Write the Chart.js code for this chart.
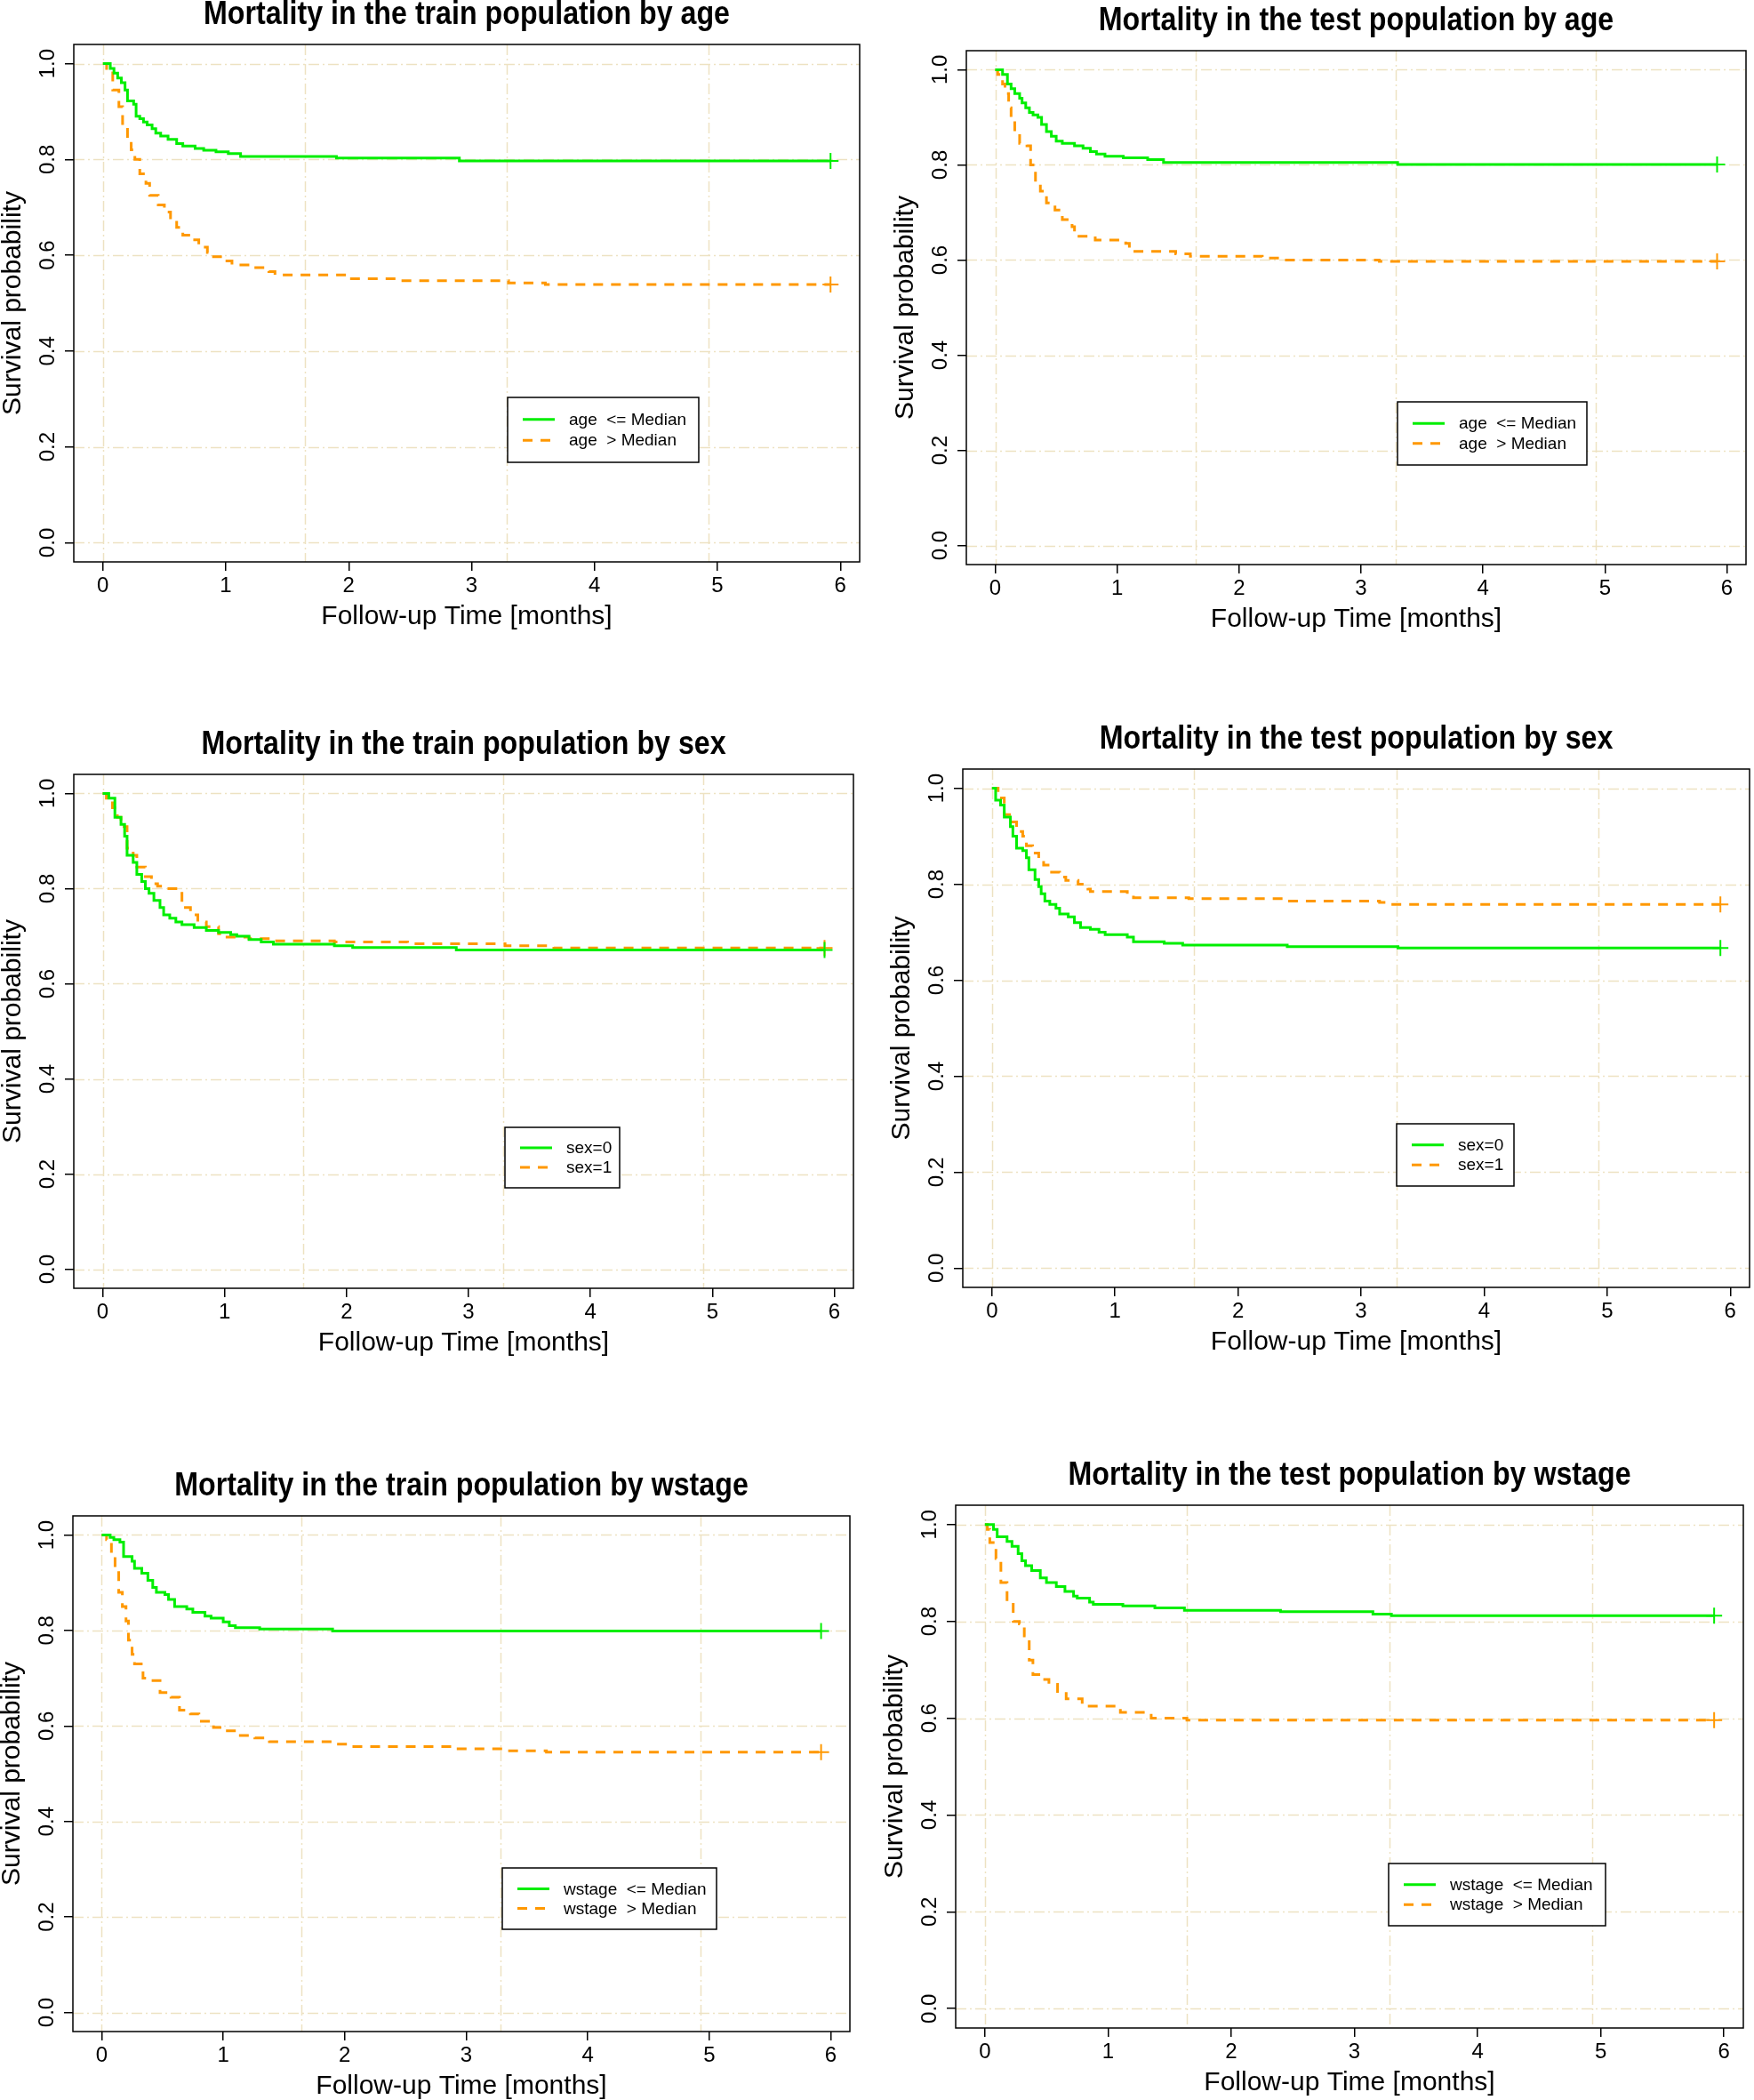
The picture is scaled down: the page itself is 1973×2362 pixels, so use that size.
<!DOCTYPE html>
<html>
<head>
<meta charset="utf-8">
<script src="https://cdn.jsdelivr.net/npm/chart.js@4/dist/chart.umd.min.js"></script>
<style>
  html, body { margin: 0; padding: 0; background: #fff; }
  body { position: relative; width: 1973px; height: 2362px; overflow: hidden; }
  canvas { position: absolute; }
</style>
</head>
<body>
<script>
// Axis ticks and limits
const xTicks = [0, 1, 2, 3, 4, 5, 6];
const yTicks = [0, 0.2, 0.4, 0.6, 0.8, 1.0];
const gridDays = [0, 50, 100, 150];        // vertical grid every 50 days
const END_TIME = 5.92;                      // last follow-up (censored)

const titles = [
    'Mortality in the train population by age',
    'Mortality in the test population by age',
    'Mortality in the train population by sex',
    'Mortality in the test population by sex',
    'Mortality in the train population by wstage',
    'Mortality in the test population by wstage'
];
const ageLabels = ['age  <= Median', 'age  > Median'];
const sexLabels = ['sex=0', 'sex=1'];
const wstageLabels = ['wstage  <= Median', 'wstage  > Median'];

// Kaplan-Meier steps: event times (months) and survival after each step
const trainAgeLowT = [0, 0.06, 0.09, 0.12, 0.15, 0.18, 0.2, 0.25, 0.27, 0.3, 0.33, 0.36, 0.4, 0.43, 0.47, 0.53, 0.6, 0.65, 0.75, 0.82, 0.92, 1.02, 1.12, 1.9, 2.9];
const trainAgeLowS = [1, 0.99, 0.98, 0.97, 0.96, 0.945, 0.922, 0.915, 0.89, 0.885, 0.878, 0.872, 0.864, 0.855, 0.849, 0.842, 0.833, 0.828, 0.823, 0.819, 0.816, 0.812, 0.806, 0.803, 0.797];
const trainAgeHighT = [0, 0.03, 0.08, 0.13, 0.16, 0.2, 0.23, 0.26, 0.3, 0.35, 0.38, 0.45, 0.5, 0.55, 0.6, 0.65, 0.72, 0.78, 0.85, 0.9, 0.98, 1.05, 1.2, 1.35, 1.4, 2.0, 2.4, 3.3, 3.6];
const trainAgeHighS = [1, 0.99, 0.945, 0.91, 0.875, 0.845, 0.82, 0.8, 0.77, 0.75, 0.725, 0.705, 0.69, 0.675, 0.658, 0.642, 0.632, 0.617, 0.606, 0.597, 0.588, 0.58, 0.574, 0.566, 0.559, 0.551, 0.547, 0.542, 0.539];

const testAgeLowT = [0, 0.06, 0.1, 0.13, 0.16, 0.2, 0.22, 0.25, 0.28, 0.31, 0.35, 0.38, 0.42, 0.46, 0.5, 0.55, 0.65, 0.72, 0.78, 0.83, 0.9, 1.05, 1.25, 1.38, 3.3];
const testAgeLowS = [1, 0.99, 0.97, 0.96, 0.95, 0.94, 0.93, 0.92, 0.91, 0.905, 0.9, 0.885, 0.87, 0.86, 0.85, 0.845, 0.84, 0.835, 0.828, 0.823, 0.818, 0.815, 0.811, 0.805, 0.801];
const testAgeHighT = [0, 0.02, 0.06, 0.08, 0.11, 0.13, 0.16, 0.2, 0.26, 0.29, 0.33, 0.37, 0.42, 0.49, 0.55, 0.63, 0.65, 0.82, 1.07, 1.1, 1.48, 1.6, 2.19, 2.37, 3.15];
const testAgeHighS = [1, 0.99, 0.97, 0.95, 0.92, 0.9, 0.87, 0.845, 0.84, 0.8, 0.76, 0.745, 0.72, 0.705, 0.685, 0.67, 0.65, 0.642, 0.635, 0.618, 0.613, 0.608, 0.604, 0.6, 0.597];

const trainSex0T = [0, 0.05, 0.1, 0.15, 0.18, 0.2, 0.25, 0.28, 0.32, 0.35, 0.38, 0.42, 0.47, 0.5, 0.55, 0.6, 0.65, 0.75, 0.85, 0.95, 1.05, 1.1, 1.2, 1.3, 1.4, 1.9, 2.05, 2.9];
const trainSex0S = [1, 0.99, 0.95, 0.935, 0.91, 0.87, 0.855, 0.83, 0.815, 0.8, 0.79, 0.775, 0.76, 0.745, 0.738, 0.73, 0.724, 0.718, 0.712, 0.708, 0.703, 0.7, 0.693, 0.688, 0.683, 0.68, 0.676, 0.671];
const trainSex1T = [0, 0.03, 0.08, 0.12, 0.15, 0.2, 0.25, 0.28, 0.35, 0.4, 0.45, 0.53, 0.6, 0.65, 0.72, 0.78, 0.85, 0.95, 1.0, 1.2, 1.4, 1.9, 2.5, 3.3, 3.7];
const trainSex1S = [1, 0.99, 0.97, 0.95, 0.93, 0.885, 0.87, 0.845, 0.825, 0.81, 0.805, 0.8, 0.79, 0.76, 0.745, 0.73, 0.72, 0.705, 0.698, 0.695, 0.69, 0.688, 0.684, 0.68, 0.675];

const testSex0T = [0, 0.03, 0.07, 0.1, 0.15, 0.17, 0.2, 0.25, 0.28, 0.3, 0.35, 0.38, 0.4, 0.43, 0.47, 0.52, 0.55, 0.62, 0.67, 0.72, 0.8, 0.87, 0.92, 1.1, 1.15, 1.4, 1.55, 2.4, 3.3];
const testSex0S = [1, 0.975, 0.965, 0.94, 0.92, 0.9, 0.875, 0.87, 0.855, 0.83, 0.81, 0.795, 0.78, 0.765, 0.758, 0.75, 0.738, 0.732, 0.72, 0.71, 0.706, 0.7, 0.695, 0.69, 0.68, 0.677, 0.673, 0.67, 0.667];
const testSex1T = [0, 0.05, 0.1, 0.17, 0.2, 0.25, 0.28, 0.33, 0.38, 0.42, 0.47, 0.55, 0.6, 0.7, 0.78, 0.8, 1.1, 1.15, 1.6, 2.4, 3.15, 3.2];
const testSex1S = [1, 0.98, 0.945, 0.93, 0.91, 0.9, 0.88, 0.865, 0.85, 0.84, 0.825, 0.815, 0.808, 0.8, 0.79, 0.785, 0.78, 0.772, 0.77, 0.765, 0.762, 0.758];

const trainWstLowT = [0, 0.07, 0.1, 0.15, 0.18, 0.25, 0.27, 0.33, 0.38, 0.42, 0.45, 0.52, 0.55, 0.6, 0.7, 0.75, 0.85, 0.9, 1.0, 1.05, 1.1, 1.3, 1.9];
const trainWstLowS = [1, 0.995, 0.99, 0.985, 0.955, 0.945, 0.93, 0.92, 0.905, 0.89, 0.88, 0.875, 0.865, 0.85, 0.845, 0.838, 0.83, 0.826, 0.818, 0.81, 0.806, 0.803, 0.799];
const trainWstHighT = [0, 0.04, 0.08, 0.11, 0.14, 0.17, 0.2, 0.22, 0.25, 0.27, 0.34, 0.41, 0.48, 0.57, 0.64, 0.73, 0.8, 0.92, 1.01, 1.12, 1.26, 1.38, 1.88, 2.04, 2.89, 3.3, 3.66];
const trainWstHighS = [1, 0.99, 0.96, 0.93, 0.88, 0.85, 0.82, 0.78, 0.75, 0.73, 0.7, 0.695, 0.67, 0.66, 0.633, 0.625, 0.61, 0.597, 0.59, 0.58, 0.575, 0.567, 0.562, 0.557, 0.552, 0.548, 0.545];

const testWstLowT = [0, 0.07, 0.1, 0.18, 0.22, 0.27, 0.3, 0.33, 0.38, 0.45, 0.5, 0.58, 0.65, 0.72, 0.75, 0.85, 0.88, 1.12, 1.38, 1.62, 2.4, 3.15, 3.3];
const testWstLowS = [1, 0.99, 0.975, 0.965, 0.955, 0.94, 0.925, 0.915, 0.905, 0.89, 0.88, 0.872, 0.862, 0.852, 0.848, 0.84, 0.835, 0.832, 0.828, 0.823, 0.82, 0.815, 0.812];
const testWstHighT = [0, 0.02, 0.04, 0.09, 0.13, 0.18, 0.23, 0.28, 0.32, 0.36, 0.39, 0.46, 0.52, 0.59, 0.66, 0.79, 1.1, 1.35, 1.64];
const testWstHighS = [1, 0.99, 0.963, 0.93, 0.88, 0.84, 0.8, 0.795, 0.77, 0.72, 0.69, 0.68, 0.67, 0.655, 0.64, 0.625, 0.612, 0.6, 0.596];

// Page layout (px): plot box [left, top, right, bottom] and legend box [x, y, w, h]
const panels = [
    { title: titles[0], labels: ageLabels, green: [trainAgeLowT, trainAgeLowS], orange: [trainAgeHighT, trainAgeHighS], box: [83, 50, 968, 632], legend: [571, 447, 215, 73] },
    { title: titles[1], labels: ageLabels, green: [testAgeLowT, testAgeLowS], orange: [testAgeHighT, testAgeHighS], box: [1087, 57, 1965, 635], legend: [1572, 452, 213, 71] },
    { title: titles[2], labels: sexLabels, green: [trainSex0T, trainSex0S], orange: [trainSex1T, trainSex1S], box: [83, 871, 961, 1449], legend: [568, 1268, 129, 68] },
    { title: titles[3], labels: sexLabels, green: [testSex0T, testSex0S], orange: [testSex1T, testSex1S], box: [1083, 865, 1969, 1448], legend: [1571, 1264, 132, 70] },
    { title: titles[4], labels: wstageLabels, green: [trainWstLowT, trainWstLowS], orange: [trainWstHighT, trainWstHighS], box: [82, 1705, 957, 2285], legend: [565, 2101, 241, 69] },
    { title: titles[5], labels: wstageLabels, green: [testWstLowT, testWstLowS], orange: [testWstHighT, testWstHighS], box: [1075, 1693, 1962, 2281], legend: [1562, 2096, 244, 70] }
];

const GREEN = '#00EE00';
const ORANGE = '#FF9800';
const GRID = '#EDE2C2';
const FONT = "'Liberation Sans', Arial, sans-serif";
const AXIS_W = 95, AXIS_H = 125, PAD_TOP = 60, PAD_RIGHT = 10;

Chart.defaults.font.family = FONT;
Chart.defaults.color = '#000';

function kmPoints(times, surv) {
    const pts = times.map((t, i) => ({ x: t, y: surv[i] }));
    pts.push({ x: END_TIME, y: surv[surv.length - 1] });
    return pts;
}

// Draws R-style decorations: grid, box, rotated y labels, titles, legend
const survivalDecor = {
    id: 'survivalDecor',
    beforeDatasetsDraw(chart) {
        const { ctx, chartArea: a, scales: { x, y } } = chart;
        ctx.save();
        ctx.strokeStyle = GRID;
        ctx.lineWidth = 1.5;
        ctx.setLineDash([12, 4, 2, 4]);
        yTicks.forEach(v => {
            const py = Math.round(y.getPixelForValue(v)) + 0.5;
            ctx.beginPath(); ctx.moveTo(a.left, py); ctx.lineTo(a.right, py); ctx.stroke();
        });
        gridDays.forEach(d => {
            const px = Math.round(x.getPixelForValue(d / 30.4375)) + 0.5;
            ctx.beginPath(); ctx.moveTo(px, a.top); ctx.lineTo(px, a.bottom); ctx.stroke();
        });
        ctx.restore();
    },
    afterDraw(chart) {
        const { ctx, chartArea: a, scales: { y } } = chart;
        const cfg = chart.options.plugins.survivalDecor;
        ctx.save();
        // box
        ctx.strokeStyle = '#000';
        ctx.lineWidth = 1.5;
        ctx.setLineDash([]);
        ctx.strokeRect(a.left, a.top, a.right - a.left, a.bottom - a.top);

        // y tick labels, parallel to axis
        ctx.fillStyle = '#000';
        ctx.font = '24px ' + FONT;
        ctx.textAlign = 'center';
        ctx.textBaseline = 'middle';
        yTicks.forEach(v => {
            ctx.save();
            ctx.translate(a.left - 29, y.getPixelForValue(v));
            ctx.rotate(-Math.PI / 2);
            ctx.fillText(v.toFixed(1), 0, 0);
            ctx.restore();
        });

        const cx = (a.left + a.right) / 2, cy = (a.top + a.bottom) / 2;
        // axis titles
        ctx.font = '30px ' + FONT;
        ctx.fillText('Follow-up Time [months]', cx, a.bottom + 62);
        ctx.save();
        ctx.translate(a.left - 68, cy);
        ctx.rotate(-Math.PI / 2);
        ctx.fillText('Survival probability', 0, 0);
        ctx.restore();

        // main title (condensed bold)
        ctx.save();
        ctx.font = 'bold 37px ' + FONT;
        ctx.translate(cx, a.top - 33);
        ctx.scale(0.87, 1);
        ctx.fillText(cfg.title, 0, 0);
        ctx.restore();

        // legend
        const [lx, ly, lw, lh] = cfg.legend;
        ctx.fillStyle = '#fff';
        ctx.fillRect(lx, ly, lw, lh);
        ctx.strokeStyle = '#000';
        ctx.lineWidth = 1.5;
        ctx.strokeRect(lx, ly, lw, lh);
        ctx.font = '19px ' + FONT;
        ctx.textAlign = 'left';
        const rows = [ly + lh * 0.34, ly + lh * 0.66];
        chart.data.datasets.forEach((ds, i) => {
            ctx.strokeStyle = ds.borderColor;
            ctx.lineWidth = 3;
            ctx.setLineDash(ds.borderDash || []);
            ctx.beginPath();
            ctx.moveTo(lx + 17, rows[i]);
            ctx.lineTo(lx + 53, rows[i]);
            ctx.stroke();
            ctx.fillStyle = '#000';
            ctx.fillText(ds.label, lx + 69, rows[i] + 1);
        });
        ctx.restore();
    }
};

function makePanel(p) {
    const [L, T, R, B] = p.box;
    const left = L - AXIS_W, top = T - PAD_TOP;
    const canvas = document.createElement('canvas');
    canvas.width = R - L + AXIS_W + PAD_RIGHT;
    canvas.height = B - T + PAD_TOP + AXIS_H;
    canvas.style.left = left + 'px';
    canvas.style.top = top + 'px';
    document.body.appendChild(canvas);

    const endMarker = ctx => ctx.dataIndex === ctx.dataset.data.length - 1 ? 9 : 0;

    new Chart(canvas, {
        type: 'line',
        data: {
            datasets: [{
                label: p.labels[0],
                data: kmPoints(p.green[0], p.green[1]),
                borderColor: GREEN,
                borderWidth: 3,
                stepped: 'before',
                pointStyle: 'cross',
                pointRadius: endMarker,
                pointBorderColor: GREEN,
                pointBorderWidth: 2
            }, {
                label: p.labels[1],
                data: kmPoints(p.orange[0], p.orange[1]),
                borderColor: ORANGE,
                borderWidth: 3,
                borderDash: [11, 9],
                stepped: 'before',
                pointStyle: 'cross',
                pointRadius: endMarker,
                pointBorderColor: ORANGE,
                pointBorderWidth: 2
            }]
        },
        options: {
            responsive: false,
            animation: false,
            devicePixelRatio: 1,
            layout: { padding: { top: PAD_TOP, right: PAD_RIGHT, left: 0, bottom: 0 } },
            plugins: {
                legend: { display: false },
                tooltip: { enabled: false },
                title: { display: false },
                survivalDecor: { title: p.title, legend: [p.legend[0] - left, p.legend[1] - top, p.legend[2], p.legend[3]] }
            },
            scales: {
                x: {
                    type: 'linear',
                    min: -0.237,
                    max: 6.157,
                    afterFit: s => { s.height = AXIS_H; },
                    afterBuildTicks: s => { s.ticks = xTicks.map(v => ({ value: v })); },
                    grid: { drawOnChartArea: false, drawTicks: true, tickLength: 10, color: '#000', lineWidth: 1.5 },
                    border: { display: false },
                    ticks: { font: { size: 24 }, color: '#000', padding: 3, maxRotation: 0 }
                },
                y: {
                    type: 'linear',
                    min: -0.04,
                    max: 1.04,
                    afterFit: s => { s.width = AXIS_W; },
                    afterBuildTicks: s => { s.ticks = yTicks.map(v => ({ value: v })); },
                    grid: { drawOnChartArea: false, drawTicks: true, tickLength: 10, color: '#000', lineWidth: 1.5 },
                    border: { display: false },
                    ticks: { display: false }
                }
            }
        },
        plugins: [survivalDecor]
    });
}

panels.forEach(makePanel);
</script>
</body>
</html>
